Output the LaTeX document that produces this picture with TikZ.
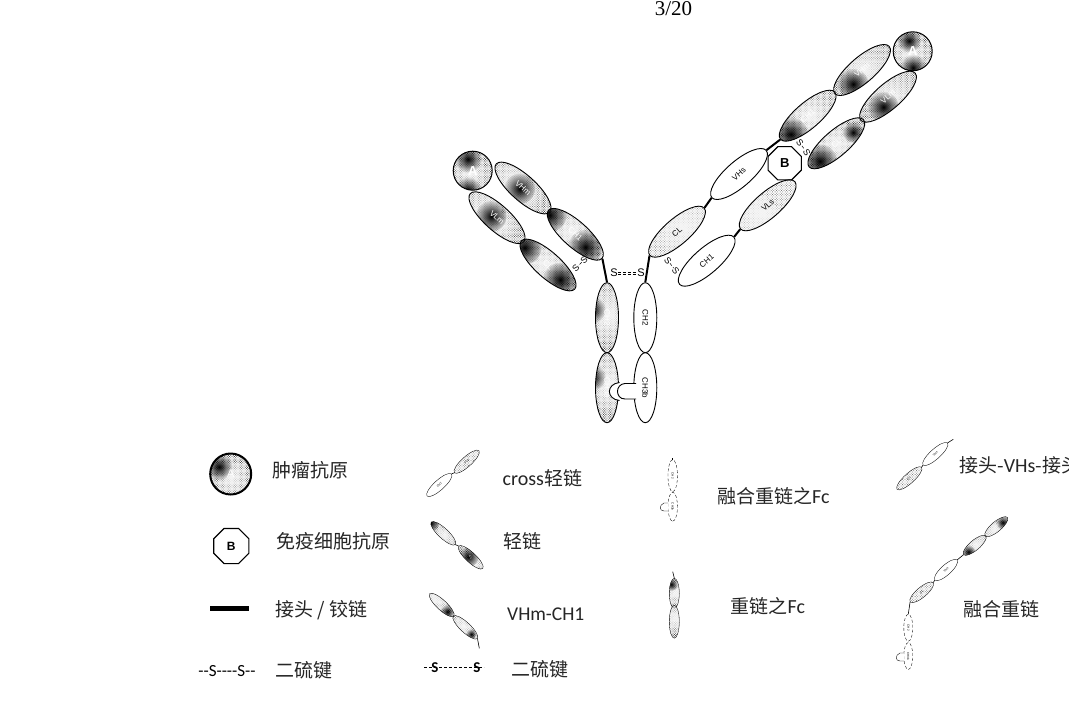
\documentclass[tikz,border=0pt]{standalone}
\usepackage{fontspec}
\setmainfont{Liberation Serif}
\newfontfamily\cjkf{Noto Sans CJK SC}
\newfontfamily\carl{Carlito}
\newfontfamily\lsans{Liberation Sans}
\usetikzlibrary{shapes.geometric,patterns.meta,fadings}
\tikzfading[name=softspot,inner color=transparent!0,outer color=transparent!100]
\newcommand{\spot}[3]{\fill[black,path fading=softspot] (#1,#2) circle[radius={(#3)*1.7}];}
\newcommand{\blob}[3]{\fill[white!92!gray,path fading=softspot] (#1,#2) circle[radius={(#3)*2.2}];}
\tikzset{
  x=1pt,y=-1pt,
  lobe/.style={ellipse,draw=black,line width=.9pt,inner sep=0pt,text=black,font=\lsans\fontsize{8}{8}\selectfont},
  mainlobe/.style={lobe,minimum width=72pt,minimum height=25.5pt},
  fclobe/.style={lobe,minimum width=70pt,minimum height=23pt},
  plain/.style={fill=white},
  dotted lobe/.style={pattern={Dots[distance=1.8pt,radius=.55pt,angle=45]},pattern color=gray},
  darkfill/.style={pattern={Dots[distance=1.7pt,radius=.6pt,angle=45]},pattern color=black!70,text=white},
  minilobe/.style={ellipse,draw=black,line width=.35pt,inner sep=0pt,minimum width=33pt,minimum height=10pt,font=\lsans\fontsize{3}{3}\selectfont},
  linker/.style={line width=2pt,line cap=butt},
  minilink/.style={line width=.6pt},
  ssline/.style={densely dashed,line width=.5pt},
  sstext/.style={inner sep=0pt,font=\lsans\fontsize{9}{9}\selectfont},
  label/.style={anchor=west,inner sep=0pt,font=\cjkf\fontsize{19}{19}\selectfont,text=black!85},
  antigen/.style={circle,draw=black,line width=1pt,minimum size=39pt,inner sep=0pt,darkfill,text=white,font=\lsans\bfseries\fontsize{13}{13}\selectfont},
  bagent/.style={regular polygon,regular polygon sides=8,draw=black,line width=1.1pt,fill=white,inner sep=0pt,minimum size=36pt,font=\lsans\bfseries\fontsize{13}{13}\selectfont},
}
\begin{document}
\begin{tikzpicture}
\clip (0,0) rectangle (1069,715);
\fill[white] (0,0) rectangle (1069,715);
\node[inner sep=0pt,font=\fontsize{21}{21}\selectfont] (page) at (673.5,9) {3/20};

% --- left arm
\node[antigen,path picture={\blob{0}{0}{9}\spot{0}{-16}{8}\spot{0}{15}{8}}] (aL) at (472.7,170.7) {A};
\node[mainlobe,darkfill,rotate=-42,path picture={\blob{-15}{0}{11}\blob{16}{0}{8}\spot{7}{0}{9}}] (vhmL) at (523,188) {VHm};
\node[mainlobe,darkfill,rotate=-42,path picture={\blob{-15}{0}{11}\blob{16}{0}{8}\spot{3}{0}{9}}] (vlmL) at (497,217.7) {VLm};
\node[mainlobe,darkfill,rotate=-42,path picture={\blob{0}{0}{13}\spot{-24}{0}{10}\spot{24}{0}{10}}] (chL) at (575.3,234.3) {CH1};
\node[mainlobe,darkfill,rotate=-42,path picture={\blob{0}{0}{13}\spot{-24}{0}{10}\spot{24}{0}{10}}] (clL) at (548,265) {CL};

% --- right arm
\node[antigen,path picture={\blob{0}{0}{9}\spot{1}{-15}{7}\spot{5}{12}{8}}] (aR) at (912.7,51.3) {A};
\node[mainlobe,darkfill,rotate=41,path picture={\blob{12}{0}{13}\spot{-7}{2}{9}}] (vhmR) at (862,70) {VHm};
\node[mainlobe,darkfill,rotate=41,path picture={\blob{12}{0}{13}\spot{-2}{2}{9}}] (vlmR) at (888,96.7) {VLm};
\node[mainlobe,darkfill,rotate=41,path picture={\blob{12}{0}{13}\spot{-17}{0}{10}}] (chR) at (807.7,115.7) {CH1};
\node[mainlobe,darkfill,rotate=41,path picture={\blob{3}{0}{11}\spot{-19}{0}{10}\spot{25}{0}{6}}] (clR) at (836.3,143.3) {CL};
\node[bagent] (bag) at (784.7,163.3) {B};
\node[mainlobe,plain,rotate=41] (vhs) at (739,174) {VHs};
\node[mainlobe,dotted lobe,rotate=41,path picture={\blob{-14}{0}{12}}] (vls) at (767.7,205.3) {VLs};
\node[mainlobe,dotted lobe,rotate=41,path picture={\blob{14}{0}{14}}] (cl2) at (677,231.7) {CL};
\node[mainlobe,plain,rotate=41] (ch2) at (706.7,260.7) {CH1};

% --- Fc
\node[fclobe,darkfill,rotate=-90,path picture={\blob{0}{-4}{15}\spot{0}{12}{8}}] (ch2L) at (607,317.7) {CH2};
\node[fclobe,darkfill,rotate=-90,path picture={\blob{0}{-4}{15}\spot{0}{12}{8}}] (ch3L) at (607,387.7) {CH3a};
\node[fclobe,plain,rotate=-90] (ch2R) at (645.3,317.7) {CH2};
\node[fclobe,plain,rotate=-90] (ch3R) at (645.3,387.7) {CH3b};

% notch and knob
\path[fill=white] (619.5,382.5) .. controls (606,384) and (606,399) .. (619.5,400.5) -- cycle;
\draw[line width=.9pt] (619.5,382.5) .. controls (606,384) and (606,399) .. (619.5,400.5);
\path[fill=white] (636,383.5) -- (625,383.5) .. controls (615,384) and (615,399) .. (625,399) -- (636,399) -- cycle;
\draw[line width=.9pt] (636,383.5) -- (625,383.5) .. controls (615,384) and (615,399) .. (625,399) -- (636,399);

% --- linkers
\draw[linker] (chL.east) -- (ch2L.west);
\draw[linker] (cl2.west) -- (ch2R.west);
\draw[linker] (chR.west) -- (vhs.east);
\draw[linker] (vhs.west) -- (cl2.east);
\draw[linker] (vls.west) -- (ch2.east);

% --- disulfide bonds
\node[sstext,font=\lsans\fontsize{11}{11}\selectfont] (s1) at (614,273) {S};
\node[sstext,font=\lsans\fontsize{11}{11}\selectfont] (s2) at (641,273) {S};
\draw[ssline] ([yshift=1pt]s1.east) -- ([yshift=1pt]s2.west);
\draw[ssline] ([yshift=-1pt]s1.east) -- ([yshift=-1pt]s2.west);
\node[sstext,rotate=45] (s3) at (584,260) {S};
\node[sstext,rotate=45] (s4) at (575.7,268.3) {S};
\draw[ssline] (s3) -- (s4);
\node[sstext,rotate=-50] (s5) at (668,260.7) {S};
\node[sstext,rotate=-50] (s6) at (675.7,270.7) {S};
\draw[ssline] (s5) -- (s6);
\node[sstext,rotate=-50] (s7) at (800,143.3) {S};
\node[sstext,rotate=-60] (s8) at (806.7,152.3) {S};
\draw[ssline] (s7) -- (s8);

% --- legend column 1
\node[antigen,minimum size=41pt,line width=2pt,font=\lsans\fontsize{11}{11}\selectfont,path picture={\blob{3}{3}{9}\spot{-8}{-11}{8}}] (lega) at (230.7,474) {A};
\node[label] (tlega) at (272.5,470) {肿瘤抗原};
\node[bagent,minimum size=38pt,font=\lsans\bfseries\fontsize{12}{12}\selectfont] (legb) at (231.3,546) {B};
\node[label] (tlegb) at (276,541) {免疫细胞抗原};
\coordinate (barl) at (210,608.3);
\coordinate (barr) at (249,608.3);
\draw[line width=5pt] (barl) -- (barr);
\node[label] (tbar) at (275,610) {接头 / 铰链};
\node[inner sep=0pt,font=\carl\fontsize{17}{17}\selectfont] (legss) at (227,671.5) {-{}-S-{}-{}-{}-S-{}-};
\node[label] (tss) at (275.5,670) {二硫键};

% --- legend column 2
\node[minilobe,dotted lobe,rotate=42] (m1a) at (466.7,461.7) {VLs};
\node[minilobe,rotate=42] (m1b) at (439.3,485) {CH1};
\draw[minilink] (m1a.west) -- (m1b.east);
\node[label,font=\carl\fontsize{20}{20}\selectfont] (tm1) at (502.5,478) {cross{\cjkf\fontsize{19}{19}\selectfont 轻链}};
\node[minilobe,darkfill,rotate=-43,path picture={\blob{5}{0}{7}\spot{-13}{0}{5}}] (m2a) at (443.3,533.3) {VLm};
\node[minilobe,darkfill,rotate=-43,path picture={\blob{12}{0}{5}\spot{0}{0}{6}}] (m2b) at (470.7,557.3) {CL};
\draw[minilink] (m2a.east) -- (m2b.west);
\node[label] (tm2) at (503,541.5) {轻链};
\node[minilobe,darkfill,rotate=-43,path picture={\blob{-6}{0}{8}\spot{12}{0}{4}}] (m3a) at (441.7,605) {VHm};
\node[minilobe,darkfill,rotate=-43,path picture={\blob{0}{0}{8}\spot{12}{0}{3}}] (m3b) at (465.3,627.3) {CH1};
\coordinate (m3end) at (479.3,648.3);
\draw[minilink] (m3b.east) -- (m3end);
\draw[minilink] (m3a.east) -- (m3b.west);
\node[label,font=\carl\fontsize{19.5}{19.5}\selectfont] (tm3) at (507,614) {VHm-CH1};
\node[inner sep=0pt,font=\carl\bfseries\fontsize{15}{15}\selectfont] (ms1) at (435,667.7) {S};
\node[inner sep=0pt,font=\carl\bfseries\fontsize{15}{15}\selectfont] (ms2) at (477,667.7) {S};
\coordinate (ms0) at (424,667.7);
\coordinate (ms3) at (484,667.7);
\draw[densely dashed,line width=1pt] (ms0) -- (ms3);
\node[label] (tm4) at (511.5,669) {二硫键};

% --- legend column 3
\coordinate (m4top) at (672.7,458);
\node[minilobe,minimum width=32pt,minimum height=9.5pt,densely dashed,rotate=-90] (m4a) at (672.7,475.7) {CH2};
\node[minilobe,minimum width=29pt,minimum height=9.5pt,densely dashed,rotate=-90] (m4b) at (672.7,506.7) {CH3b};
\draw[minilink] (m4top) -- (m4a.west);
\draw[line width=.35pt,fill=white] (668,503) -- (664,503) .. controls (659,505) and (659,511) .. (664,511) -- (668,511);
\node[label] (tm5) at (717,496.7) {融合重链之{\carl\fontsize{20}{20}\selectfont Fc}};
\coordinate (m5top) at (672.7,571.7);
\node[minilobe,darkfill,minimum width=30pt,rotate=-90,path picture={\blob{2}{-2}{7}\spot{-6}{2}{4}}] (m5a) at (674.3,593.3) {CH2};
\node[minilobe,darkfill,minimum width=33pt,rotate=-90,path picture={\blob{-4}{-2}{8}}] (m5b) at (674.3,621.7) {CH3a};
\draw[minilink] (m5top) -- (m5a.west);
\node[label] (tm6) at (730.5,606) {重链之{\carl\fontsize{20}{20}\selectfont Fc}};

% --- legend column 4
\coordinate (m6end) at (953.3,439.3);
\node[minilobe,rotate=42] (m6a) at (935.3,454) {VHs};
\node[minilobe,dotted lobe,rotate=42] (m6b) at (909.3,478.3) {CL};
\draw[minilink] (m6end) -- (m6a.east);
\draw[minilink] (m6a.west) -- (m6b.east);
\node[label] (tm7) at (959,465.7) {接头-{\carl\fontsize{20}{20}\selectfont VHs}-接头};

\node[minilobe,darkfill,minimum width=29pt,rotate=40,path picture={\blob{0}{0}{7}\spot{11}{0}{4}}] (m7a) at (996.3,526.7) {VHm};
\node[minilobe,darkfill,minimum width=29pt,rotate=40,path picture={\blob{5}{0}{7}\spot{-6}{0}{4}}] (m7b) at (974.7,545.3) {CH1};
\node[minilobe,minimum width=30pt,rotate=42] (m7c) at (946,570) {VHs};
\node[minilobe,dotted lobe,minimum width=30pt,rotate=40] (m7d) at (921.7,592.3) {CL};
\node[minilobe,minimum width=27pt,minimum height=9pt,densely dashed,rotate=-90] (m7e) at (908.3,627.7) {CH2};
\node[minilobe,minimum width=27pt,minimum height=9pt,densely dashed,rotate=-90] (m7f) at (908.3,656) {CH3b};
\draw[minilink] (m7a.west) -- (m7b.east);
\draw[minilink] (m7b.west) -- (m7c.east);
\draw[minilink] (m7c.west) -- (m7d.east);
\draw[minilink] (m7d.west) -- (m7e.west);
\draw[line width=.35pt,fill=white] (904,653) -- (900,653) .. controls (895,655) and (895,661) .. (900,661) -- (904,661);
\node[label] (tm8) at (963,609) {融合重链};
\end{tikzpicture}
\end{document}
